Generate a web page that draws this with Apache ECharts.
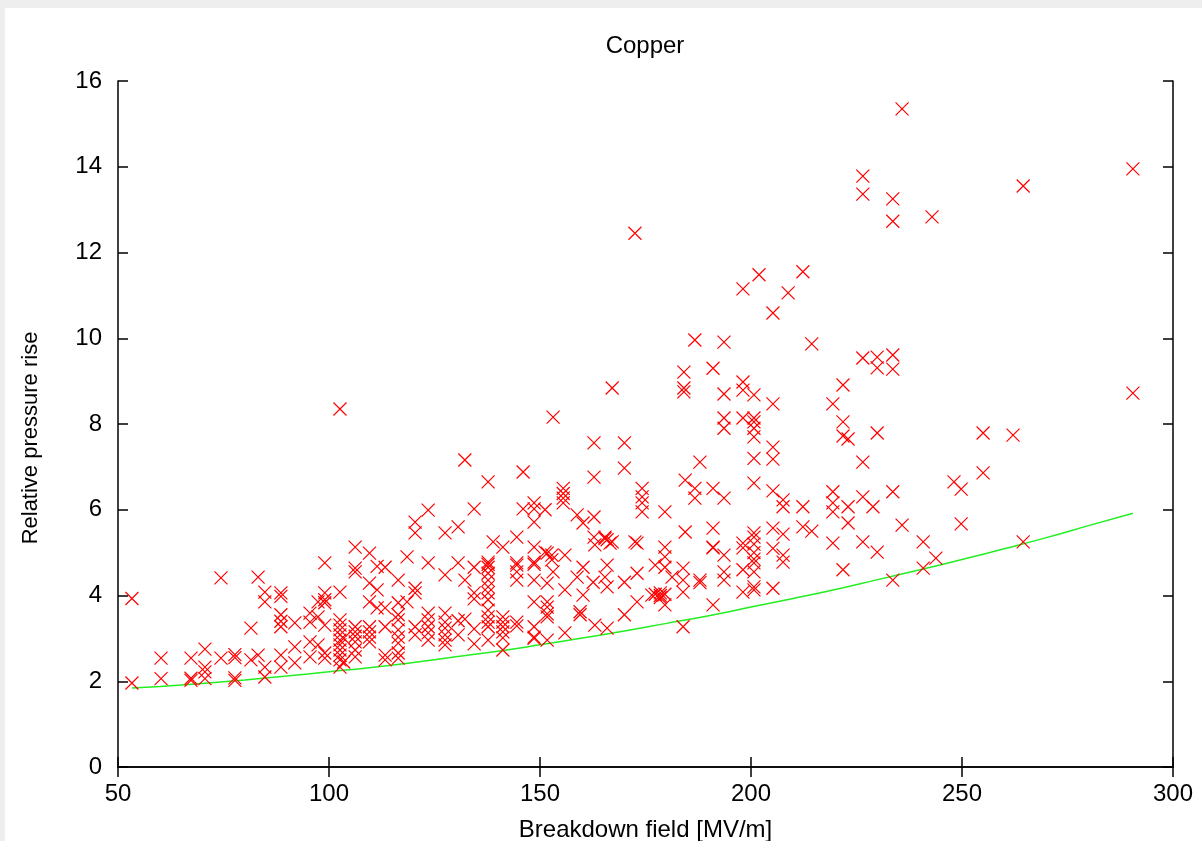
<!DOCTYPE html>
<html><head><meta charset="utf-8">
<script src="https://cdn.jsdelivr.net/npm/echarts@6/dist/echarts.min.js"></script>
<style>
html,body{margin:0;padding:0;background:#eeeeee;width:1202px;height:841px;overflow:hidden;}
#chart{position:absolute;left:5px;top:8px;width:1197px;height:833px;background:#ffffff;}
</style></head><body><div id="chart"></div>
<script>
const chartTitle = 'Copper';
const xAxisTitle = 'Breakdown field [MV/m]';
const yAxisTitle = 'Relative pressure rise';
const xRange = [50, 300, 50];
const yRange = [0, 16, 2];

// measured points: [breakdown field, relative pressure rise]
const copperPoints = [
  [53.3,3.93],[53.3,1.96],
  [60.2,2.54],[60.2,2.06],
  [67.3,2.54],[67.3,2.07],[67.3,2.02],
  [70.6,2.75],[70.6,2.33],[70.6,2.22],[70.6,2.06],
  [74.4,4.41],[74.4,2.54],
  [77.7,2.62],[77.7,2.55],[77.7,2.08],[77.7,2.02],
  [81.5,3.24],[81.5,2.5],
  [83.2,4.43],[83.2,2.61],
  [84.8,4.08],[84.8,3.85],[84.8,2.33],[84.8,2.1],
  [88.6,4.06],[88.6,3.98],[88.6,3.55],[88.6,3.4],[88.6,3.27],[88.6,2.61],[88.6,2.33],
  [91.9,3.36],[91.9,2.8],[91.9,2.43],
  [95.5,3.59],[95.5,3.38],[95.5,2.92],[95.5,2.57],
  [97.4,3.85],[97.4,3.5],[97.4,2.85],
  [99.0,4.76],[99.0,4.06],[99.0,3.9],[99.0,3.83],[99.0,3.31],[99.0,2.66],[99.0,2.54],
  [102.6,8.35],[102.6,4.08],[102.6,3.43],[102.6,3.31],[102.6,3.2],[102.6,3.08],[102.6,2.96],[102.6,2.85],[102.6,2.73],[102.6,2.61],[102.6,2.5],[102.6,2.33],
  [103.5,3.0],[103.5,2.45],
  [106.2,5.13],[106.2,4.64],[106.2,4.55],[106.2,3.27],[106.2,3.15],[106.2,3.05],[106.2,2.92],[106.2,2.73],[106.2,2.57],
  [109.6,4.99],[109.6,4.29],[109.6,3.85],[109.6,3.27],[109.6,3.15],[109.6,3.03],[109.6,2.92],
  [111.4,4.68],[111.4,4.13],[111.4,3.71],
  [113.3,4.66],[113.3,3.71],[113.3,3.27],[113.3,2.61],[113.3,2.5],
  [116.4,4.36],[116.4,3.83],[116.4,3.55],[116.4,3.43],[116.4,3.2],[116.4,3.03],[116.4,2.89],[116.4,2.66],[116.4,2.54],
  [118.5,4.9],[118.5,3.85],
  [120.4,5.71],[120.4,5.46],[120.4,4.17],[120.4,4.06],[120.4,3.27],[120.4,3.08],
  [123.5,5.99],[123.5,4.76],[123.5,3.59],[123.5,3.43],[123.5,3.27],[123.5,3.13],[123.5,2.96],
  [127.5,5.46],[127.5,4.48],[127.5,3.59],[127.5,3.38],[127.5,3.24],[127.5,3.08],[127.5,2.96],[127.5,2.85],
  [130.6,5.6],[130.6,4.76],[130.6,3.41],[130.6,3.08],
  [132.2,7.16],[132.2,4.36],[132.2,3.45],
  [134.4,6.02],[134.4,4.66],[134.4,4.06],[134.4,3.92],[134.4,3.22],[134.4,2.87],
  [137.7,6.65],[137.7,4.78],[137.7,4.73],[137.7,4.66],[137.7,4.52],[137.7,4.36],[137.7,4.2],[137.7,4.06],[137.7,3.9],[137.7,3.66],[137.7,3.5],[137.7,3.38],[137.7,3.27],[137.7,2.96],
  [138.9,5.25],
  [141.2,5.13],[141.2,3.5],[141.2,3.38],[141.2,3.27],[141.2,3.15],[141.2,3.01],[141.2,2.73],
  [144.5,5.36],[144.5,4.76],[144.5,4.71],[144.5,4.55],[144.5,4.36],[144.5,3.38],[144.5,3.29],
  [146.0,6.88],[146.0,6.02],
  [148.6,6.16],[148.6,6.02],[148.6,5.71],[148.6,5.13],[148.6,4.78],[148.6,4.73],[148.6,4.36],[148.6,3.85],[148.6,3.27],[148.6,3.03],[148.6,3.0],
  [151.2,6.0],[151.2,5.01],
  [151.7,4.99],[151.7,4.29],[151.7,3.85],[151.7,3.73],[151.7,3.57],[151.7,3.5],[151.7,2.96],
  [152.8,4.94],[152.8,4.83],
  [153.1,8.16],[153.1,4.55],
  [155.5,6.5],[155.5,6.38],[155.5,6.27],[155.5,6.16],
  [155.9,4.94],[155.9,4.13],[155.9,3.13],
  [158.8,5.88],[158.8,4.43],
  [159.5,3.62],[159.5,3.55],
  [160.2,5.69],[160.2,4.66],[160.2,4.01],
  [162.6,4.31],
  [162.8,7.56],[162.8,6.76],[162.8,5.83],[162.8,5.36],
  [163.0,5.18],[163.0,3.31],
  [165.4,5.36],[165.4,5.33],[165.4,4.43],
  [165.9,5.3],[165.9,4.71],[165.9,4.2],[165.9,3.24],
  [166.6,5.22],
  [167.1,8.84],[167.1,5.25],
  [170.0,7.56],[170.0,6.97],[170.0,4.31],[170.0,3.55],
  [172.5,12.45],[172.5,5.25],
  [173.0,5.22],[173.0,4.52],[173.0,3.85],
  [174.2,6.5],[174.2,6.3],[174.2,6.16],[174.2,5.95],
  [176.5,4.01],
  [177.3,4.71],[177.3,4.03],
  [178.5,4.06],[178.5,4.0],[178.5,3.95],
  [179.6,5.95],[179.6,5.13],[179.6,4.9],[179.6,4.66],[179.6,4.03],[179.6,3.78],
  [181.3,4.43],
  [183.9,4.64],[183.9,4.36],[183.9,4.08],[183.9,3.27],
  [184.1,9.21],[184.1,8.84],[184.1,8.75],
  [184.4,6.69],[184.4,5.48],
  [186.7,9.96],[186.7,6.5],[186.7,6.27],
  [187.9,7.11],[187.9,4.36],[187.9,4.3],
  [191.0,9.3],[191.0,6.5],[191.0,5.57],[191.0,5.13],[191.0,5.11],[191.0,3.78],
  [193.6,9.91],[193.6,8.7],[193.6,8.14],[193.6,7.9],[193.6,6.27],[193.6,4.94],[193.6,4.55],[193.6,4.36],
  [198.1,11.15],[198.1,8.98],[198.1,8.79],[198.1,8.14],[198.1,5.22],[198.1,5.11],[198.1,4.6],[198.1,4.08],
  [200.7,8.68],[200.7,8.14],[200.7,8.05],[200.7,7.9],[200.7,7.7],[200.7,7.2],[200.7,6.62],[200.7,5.46],[200.7,5.36],[200.7,5.2],[200.7,5.0],[200.7,4.85],[200.7,4.76],[200.7,4.55],[200.7,4.2],[200.7,4.13],
  [201.9,11.48],
  [205.2,10.59],[205.2,8.47],[205.2,7.46],[205.2,7.18],[205.2,6.44],[205.2,5.57],[205.2,5.1],[205.2,4.17],
  [207.6,6.23],[207.6,6.07],[207.6,5.43],[207.6,4.94],[207.6,4.78],
  [208.8,11.06],
  [212.3,11.55],[212.3,6.07],[212.3,5.6],
  [214.4,9.87],[214.4,5.5],
  [219.4,8.47],[219.4,6.42],[219.4,6.16],[219.4,5.95],[219.4,5.22],
  [221.8,8.91],[221.8,8.05],[221.8,7.72],[221.8,4.6],
  [223.0,7.65],[223.0,6.07],[223.0,5.69],
  [226.5,13.78],[226.5,13.36],[226.5,9.54],[226.5,7.11],[226.5,6.3],[226.5,5.25],
  [228.9,6.07],
  [229.9,9.56],[229.9,9.31],[229.9,7.79],[229.9,5.01],
  [233.6,13.25],[233.6,12.73],[233.6,9.61],[233.6,9.28],[233.6,6.42],[233.6,4.36],
  [235.8,15.35],[235.8,5.64],
  [240.8,5.25],[240.8,4.64],
  [242.9,12.83],
  [243.8,4.87],
  [248.1,6.65],
  [249.8,6.48],[249.8,5.67],
  [255.0,7.79],[255.0,6.86],
  [262.1,7.74],
  [264.5,13.55],[264.5,5.25],
  [290.5,13.95],[290.5,8.72]
];

// green fit curve, read along its length
const fitField    = [53.3, 60, 70, 80, 90, 100, 110, 120, 130, 140, 150, 160, 170, 180, 190, 200, 210, 220, 230, 240, 250, 260, 270, 280, 290.5];
const fitPressure = [1.84, 1.88, 1.95, 2.03, 2.12, 2.22, 2.32, 2.44, 2.57, 2.70, 2.85, 3.01, 3.17, 3.35, 3.53, 3.73, 3.93, 4.14, 4.37, 4.60, 4.84, 5.09, 5.35, 5.63, 5.92];

const FONT = "'Liberation Sans', Arial, sans-serif";
const fitData = fitField.map((x, i) => [x, fitPressure[i]]);

const chart = echarts.init(document.getElementById('chart'), null, {renderer: 'canvas'});

const baseAxisLine = {show: true, lineStyle: {color: '#000', width: 1.5}};
const baseTick = {show: true, inside: true, length: 10, lineStyle: {color: '#000', width: 1.5}};

chart.setOption({
  animation: false,
  backgroundColor: '#ffffff',
  title: {
    text: chartTitle,
    left: 640,
    top: 26,
    textAlign: 'center',
    padding: 0,
    textStyle: {fontFamily: FONT, fontSize: 24, fontWeight: 'normal', color: '#000'}
  },
  grid: {left: 113, top: 73, right: 29, bottom: 74, containLabel: false, outerBoundsMode: 'none'},
  xAxis: [
    {
      type: 'value', position: 'bottom', min: xRange[0], max: xRange[1], interval: xRange[2],
      axisLine: baseAxisLine, axisTick: baseTick, splitLine: {show: false},
      axisLabel: {fontFamily: FONT, fontSize: 24, color: '#000', margin: 15},
      name: xAxisTitle, nameLocation: 'middle', nameGap: 51,
      nameTextStyle: {fontFamily: FONT, fontSize: 24, color: '#000'}
    },
    {
      type: 'value', position: 'top', min: xRange[0], max: xRange[1], interval: xRange[2],
      axisLine: baseAxisLine, axisTick: baseTick, splitLine: {show: false},
      axisLabel: {show: false}
    }
  ],
  yAxis: [
    {
      type: 'value', position: 'left', min: yRange[0], max: yRange[1], interval: yRange[2],
      axisLine: baseAxisLine, axisTick: baseTick, splitLine: {show: false},
      axisLabel: {fontFamily: FONT, fontSize: 24, color: '#000', margin: 16},
      name: yAxisTitle, nameLocation: 'middle', nameRotate: 90, nameGap: 76,
      nameTextStyle: {fontFamily: FONT, fontSize: 22, color: '#000', padding: [0, 28, 0, 0]}
    },
    {
      type: 'value', position: 'right', min: yRange[0], max: yRange[1], interval: yRange[2],
      axisLine: baseAxisLine, axisTick: baseTick, splitLine: {show: false},
      axisLabel: {show: false}
    }
  ],
  series: [
    {
      type: 'scatter',
      xAxisIndex: 0, yAxisIndex: 0,
      data: copperPoints,
      symbol: 'path://M0,0L10,10M10,0L0,10',
      symbolSize: 13,
      itemStyle: {color: 'rgba(0,0,0,0)', borderColor: '#ff0000', borderWidth: 1.2, opacity: 1},
      emphasis: {disabled: true},
      z: 3
    },
    {
      type: 'line',
      xAxisIndex: 0, yAxisIndex: 0,
      data: fitData,
      smooth: true,
      showSymbol: false,
      symbol: 'none',
      lineStyle: {color: '#22ee22', width: 1.5},
      emphasis: {disabled: true},
      z: 2
    }
  ]
});
</script>
</body></html>
